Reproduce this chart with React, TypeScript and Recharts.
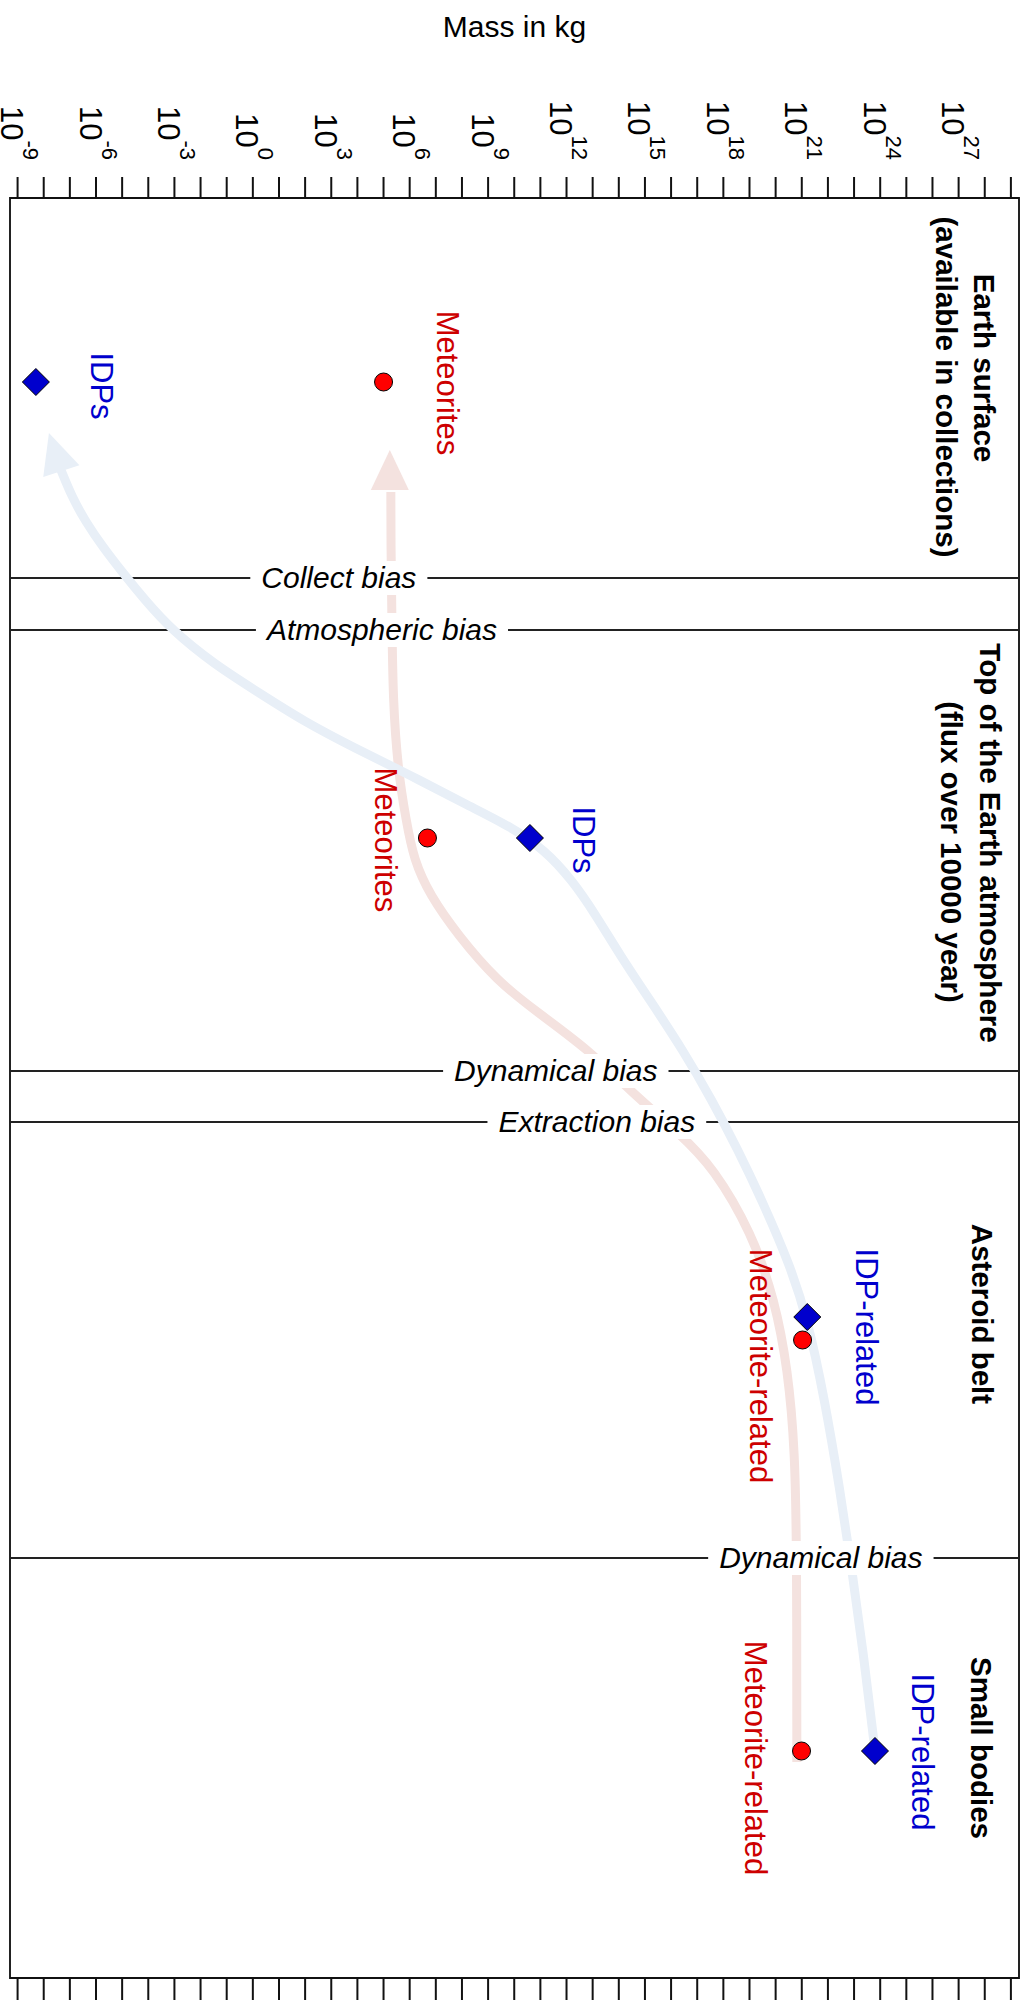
import React from 'react';
import { ScatterChart, Scatter, XAxis, YAxis, ReferenceLine, ReferenceArea } from 'recharts';

const FONT = '"Liberation Sans", Arial, Helvetica, sans-serif';

// horizontal axis: log10 of mass in kg; vertical axis: stage position, 0 at top
const MASS_MIN = -9.29;
const MASS_MAX = 29.31;
const STAGE_MAX = 178;

const TICK_EXPONENTS = [
  -9, -8, -7, -6, -5, -4, -3, -2, -1, 0, 1, 2, 3, 4, 5, 6, 7, 8, 9, 10, 11, 12, 13, 14, 15, 16, 17, 18, 19, 20,
  21, 22, 23, 24, 25, 26, 27, 28, 29,
];
const LABELED_EXPONENTS = [-9, -6, -3, 0, 3, 6, 9, 12, 15, 18, 21, 24, 27];

// markers
const METEORITE_MASS = [5.0, 6.68, 21.03, 20.99];
const METEORITE_STAGE = [18.4, 64.0, 114.2, 155.3];
const IDP_MASS = [-8.3, 10.6, 21.21, 23.8];
const IDP_STAGE = [18.4, 64.0, 111.9, 155.3];

// series names written next to the markers
const METEORITE_NAMES = ['Meteorites', 'Meteorites', 'Meteorite-related', 'Meteorite-related'];
const METEORITE_NAME_MASS = [7.46, 5.09, 19.44, 19.24];
const METEORITE_NAME_STAGE = [18.5, 64.2, 116.8, 156.0];
const IDP_NAMES = ['IDPs', 'IDPs', 'IDP-related', 'IDP-related'];
const IDP_NAME_MASS = [-5.78, 12.66, 23.49, 25.63];
const IDP_NAME_STAGE = [18.8, 64.2, 112.9, 155.4];

// stage titles, one entry per line
const STAGE_LINES = [
  'Earth surface',
  '(available in collections)',
  'Top of the Earth atmosphere',
  '(flux over 10000 year)',
  'Asteroid belt',
  'Small bodies',
];
const STAGE_LINE_MASS = [28.0, 26.55, 28.23, 26.74, 27.93, 27.89];
const STAGE_LINE_STAGE = [17.0, 18.9, 64.5, 65.4, 111.6, 155.0];

// bias boundaries between stages
const BIAS_NAMES = ['Collect bias', 'Atmospheric bias', 'Dynamical bias', 'Extraction bias', 'Dynamical bias'];
const BIAS_STAGE = [38.0, 43.2, 87.3, 92.4, 136.0];
const BIAS_LABEL_MASS = [3.29, 4.94, 11.59, 13.16, 21.73];

// transfer paths, top end first
const METEORITE_PATH_MASS = [
  5.28, 5.28, 5.32, 5.36, 5.55, 5.86, 6.16, 6.77, 7.84, 9.34, 10.87, 12.86, 14.35, 16.38, 17.6, 19.09, 19.97,
  20.47, 20.74, 20.81, 20.81,
];
const METEORITE_PATH_STAGE = [
  29.4, 34.2, 42.2, 50.2, 57.2, 62.2, 66.2, 69.7, 73.7, 78.3, 81.4, 85.2, 89.1, 93.7, 96.9, 103.5, 110.2, 117.2,
  125.2, 135.9, 156.4,
];
const IDP_PATH_MASS = [
  -7.34, -6.92, -6.39, -5.74, -4.97, -4.13, -3.1, -1.49, 0.19, 1.99, 3.9, 6.01, 8.19, 9.83, 11.17, 12.21, 13.12,
  14.04, 15.19, 16.45, 17.56, 18.56, 19.47, 20.55, 21.23, 21.88, 22.46, 22.92, 23.34, 23.76,
];
const IDP_PATH_STAGE = [
  27.2, 29.9, 32.4, 34.9, 37.5, 40.2, 43.2, 46.6, 49.4, 52.4, 55.0, 57.7, 60.7, 62.8, 65.2, 68.2, 71.7, 75.7, 80.2,
  85.2, 90.2, 95.2, 100.2, 106.7, 112.2, 120.2, 129.2, 137.2, 145.2, 154.4,
];
const METEORITE_ARROW_TIP = { logMass: 5.24, stage: 25.2 };
const IDP_ARROW_TIP = { logMass: -7.8, stage: 23.5 };

const points = (mass: number[], stage: number[], text?: string[]) =>
  mass.map((m, i) => ({ logMass: m, stage: stage[i], text: text ? text[i] : '' }));

const RED = '#ff0000';
const RED_TEXT = '#cd0000';
const BLUE = '#0000cd';
const RED_PATH = '#f4e2df';
const BLUE_PATH = '#e8eff7';

const MassTick = (props: any) => {
  const { x, y, payload } = props;
  if (!LABELED_EXPONENTS.includes(payload.value)) return <g />;
  return (
    <g transform={`translate(${x},${y}) rotate(90)`}>
      <text y={16.5} textAnchor='end' fontFamily={FONT} fill='#000' fontSize={31}>
        <tspan>10</tspan>
        <tspan dy={-22} fontSize={22}>
          {payload.value}
        </tspan>
      </text>
    </g>
  );
};

const NoTick = () => <g />;

const rotatedText = (color: string, size: number, weight: string) => (props: any) => {
  const { cx, cy, payload } = props;
  return (
    <text
      x={cx}
      y={cy}
      transform={`rotate(90 ${cx} ${cy})`}
      textAnchor='middle'
      dominantBaseline='central'
      fontFamily={FONT}
      fontSize={size}
      fontWeight={weight}
      fill={color}
    >
      {payload.text}
    </text>
  );
};

let measureCtx: CanvasRenderingContext2D | null = null;
const textWidth = (text: string, font: string) => {
  if (!measureCtx) measureCtx = document.createElement('canvas').getContext('2d');
  if (!measureCtx) return text.length * 15;
  measureCtx.font = font;
  return measureCtx.measureText(text).width;
};

const BiasLabel = (props: any) => {
  const { cx, cy, payload } = props;
  const w = textWidth(payload.text, `italic 30px ${FONT}`) + 22;
  return (
    <g>
      <rect x={cx - w / 2} y={cy - 17} width={w} height={34} fill='#fff' />
      <text x={cx} y={cy + 10} textAnchor='middle' fontFamily={FONT} fontStyle='italic' fontSize={30} fill='#000'>
        {payload.text}
      </text>
    </g>
  );
};

const Circle = (props: any) => <circle cx={props.cx} cy={props.cy} r={9} fill={RED} stroke='#000' strokeWidth={1} />;

const Diamond = (props: any) => {
  const { cx, cy } = props;
  const h = 13.5;
  return (
    <polygon
      points={`${cx},${cy - h} ${cx + h},${cy} ${cx},${cy + h} ${cx - h},${cy}`}
      fill={BLUE}
      stroke='#000'
      strokeWidth={1}
    />
  );
};

const arrowHead = (color: string, angle: number) => (props: any) => (
  <polygon points='0,0 19,40 -19,40' transform={`translate(${props.cx},${props.cy}) rotate(${angle})`} fill={color} />
);

const Nothing = () => <g />;

export default function App() {
  return (
    <div style={{ position: 'absolute', left: 0, top: 0, width: 1026, height: 2004, background: '#fff' }}>
      <ScatterChart width={1026} height={2004} margin={{ top: 78, right: 7, bottom: 4, left: 10 }}>
        <XAxis
          xAxisId='top'
          orientation='top'
          type='number'
          dataKey='logMass'
          domain={[MASS_MIN, MASS_MAX]}
          allowDataOverflow
          ticks={TICK_EXPONENTS}
          interval={0}
          height={120}
          tickSize={21}
          tickMargin={17}
          tick={<MassTick />}
          axisLine={{ stroke: '#111', strokeWidth: 2 }}
          tickLine={{ stroke: '#111', strokeWidth: 2 }}
          label={{
            value: 'Mass in kg',
            position: 'top',
            offset: 41,
            fill: '#000',
            fontSize: 30,
            fontFamily: FONT,
          }}
        />
        <XAxis
          xAxisId='bottom'
          orientation='bottom'
          type='number'
          dataKey='logMass'
          domain={[MASS_MIN, MASS_MAX]}
          allowDataOverflow
          ticks={TICK_EXPONENTS}
          interval={0}
          height={22}
          tickSize={22}
          tick={<NoTick />}
          axisLine={{ stroke: '#111', strokeWidth: 2 }}
          tickLine={{ stroke: '#111', strokeWidth: 2 }}
        />
        <YAxis yAxisId='s' type='number' dataKey='stage' domain={[0, STAGE_MAX]} reversed hide />

        <ReferenceArea
          xAxisId='top'
          yAxisId='s'
          x1={MASS_MIN}
          x2={MASS_MAX}
          y1={0}
          y2={STAGE_MAX}
          fill='none'
          stroke='#222'
          strokeWidth={2}
          ifOverflow='visible'
        />

        {/* smoothed transfer paths from the source bodies up to the collections */}
        <Scatter
          xAxisId='top'
          yAxisId='s'
          data={points(METEORITE_PATH_MASS, METEORITE_PATH_STAGE)}
          line={{ stroke: RED_PATH, strokeWidth: 9 }}
          lineJointType='basis'
          shape={<Nothing />}
          isAnimationActive={false}
        />
        <Scatter
          xAxisId='top'
          yAxisId='s'
          data={points(IDP_PATH_MASS, IDP_PATH_STAGE)}
          line={{ stroke: BLUE_PATH, strokeWidth: 9 }}
          lineJointType='basis'
          shape={<Nothing />}
          isAnimationActive={false}
        />
        <Scatter
          xAxisId='top'
          yAxisId='s'
          data={[METEORITE_ARROW_TIP]}
          shape={arrowHead(RED_PATH, 0)}
          isAnimationActive={false}
        />
        <Scatter
          xAxisId='top'
          yAxisId='s'
          data={[IDP_ARROW_TIP]}
          shape={arrowHead(BLUE_PATH, -18)}
          isAnimationActive={false}
        />

        {BIAS_STAGE.map((s, i) => (
          <ReferenceLine key={i} xAxisId='top' yAxisId='s' y={s} stroke='#222' strokeWidth={2} />
        ))}
        <Scatter
          xAxisId='top'
          yAxisId='s'
          data={points(BIAS_LABEL_MASS, BIAS_STAGE, BIAS_NAMES)}
          shape={BiasLabel}
          isAnimationActive={false}
        />

        <Scatter
          xAxisId='top'
          yAxisId='s'
          data={points(METEORITE_MASS, METEORITE_STAGE)}
          shape={Circle}
          isAnimationActive={false}
        />
        <Scatter
          xAxisId='top'
          yAxisId='s'
          data={points(IDP_MASS, IDP_STAGE)}
          shape={Diamond}
          isAnimationActive={false}
        />

        <Scatter
          xAxisId='top'
          yAxisId='s'
          data={points(METEORITE_NAME_MASS, METEORITE_NAME_STAGE, METEORITE_NAMES)}
          shape={rotatedText(RED_TEXT, 31, 'normal')}
          isAnimationActive={false}
        />
        <Scatter
          xAxisId='top'
          yAxisId='s'
          data={points(IDP_NAME_MASS, IDP_NAME_STAGE, IDP_NAMES)}
          shape={rotatedText(BLUE, 31, 'normal')}
          isAnimationActive={false}
        />
        <Scatter
          xAxisId='top'
          yAxisId='s'
          data={points(STAGE_LINE_MASS, STAGE_LINE_STAGE, STAGE_LINES)}
          shape={rotatedText('#000', 29.5, 'bold')}
          isAnimationActive={false}
        />
      </ScatterChart>
    </div>
  );
}
